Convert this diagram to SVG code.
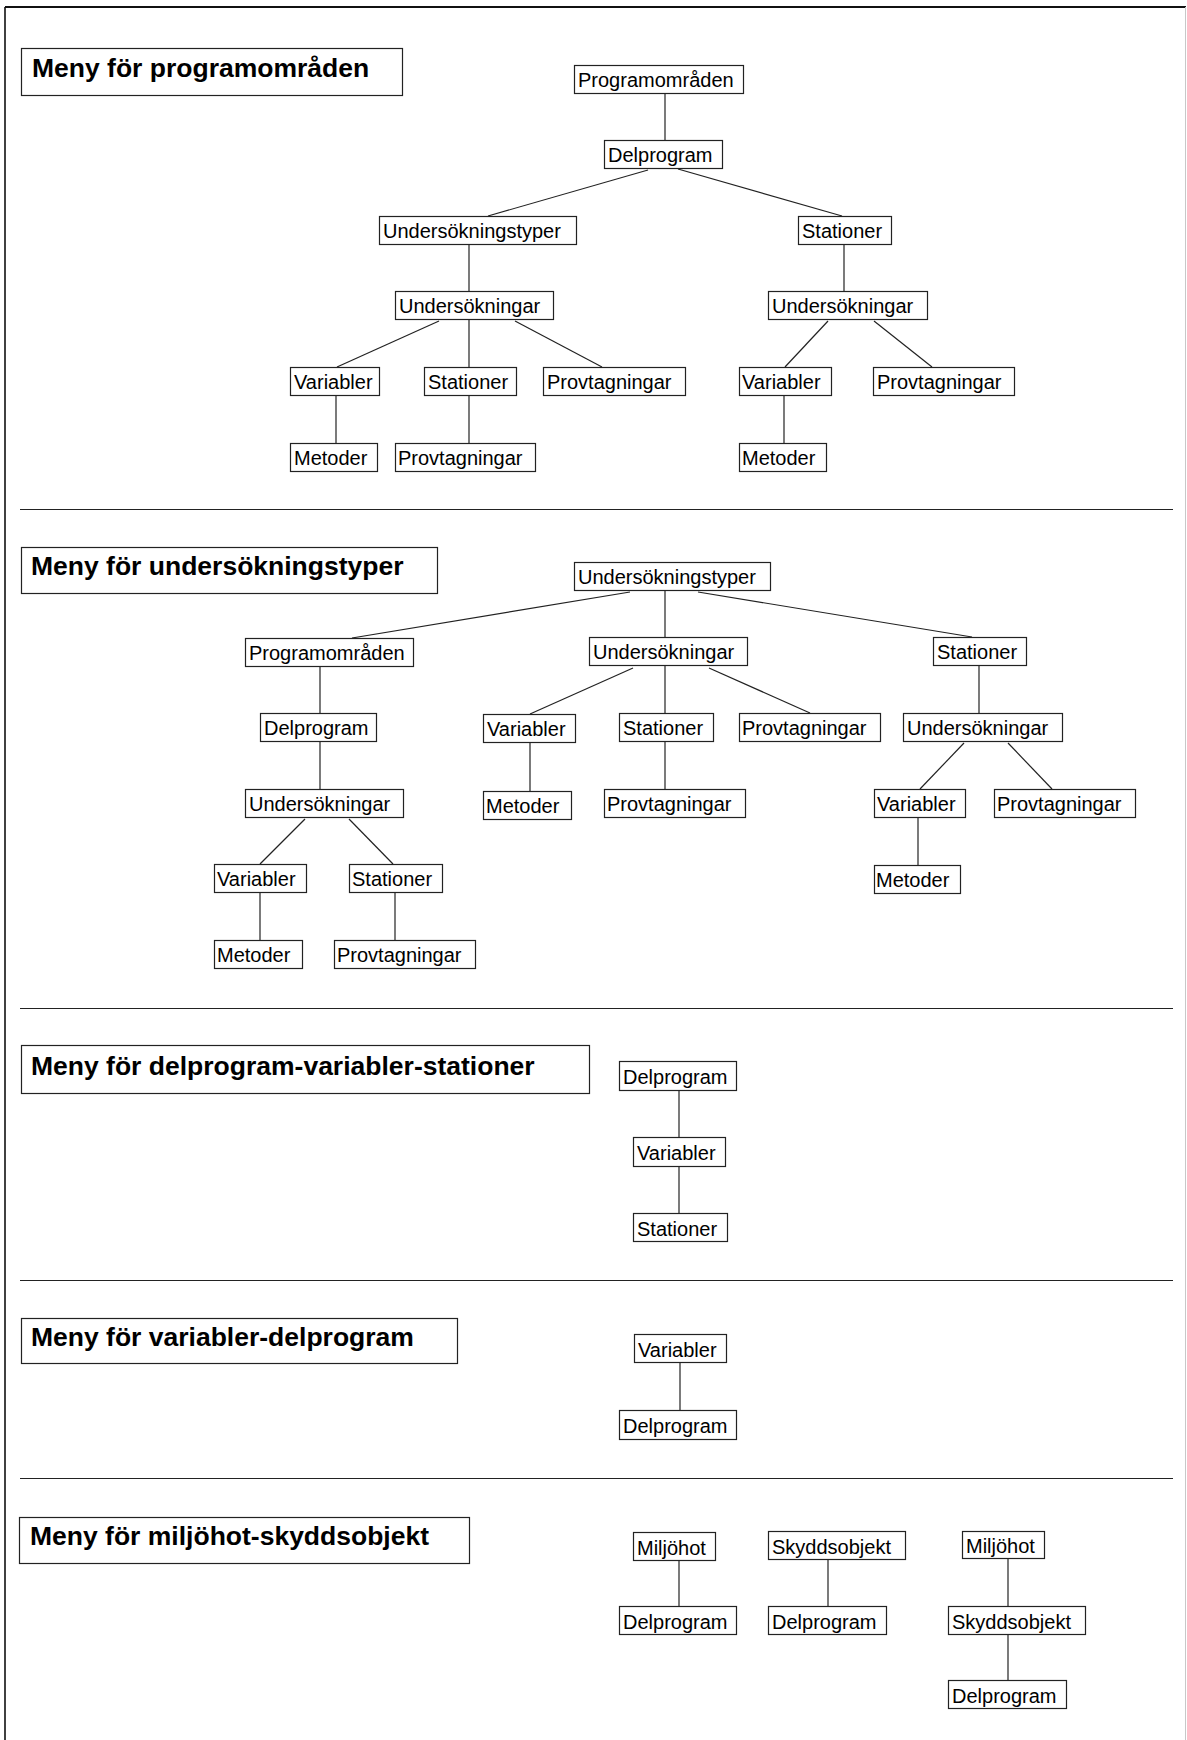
<svg xmlns="http://www.w3.org/2000/svg" width="1187" height="1740" viewBox="0 0 1187 1740">
<style>
  .bg{fill:#fff}
  .frame{fill:none}
  .sep{stroke:#222;stroke-width:1.2}
  .title rect{fill:#fff;stroke:#222;stroke-width:1.2}
  .title text{font-family:"Liberation Sans",Arial,sans-serif;font-weight:bold;font-size:26.5px;fill:#000}
  .node rect{fill:#fff;stroke:#222;stroke-width:1.2}
  .node text{font-family:"Liberation Sans",Arial,sans-serif;font-size:20px;fill:#000}
  .conn line{stroke:#222;stroke-width:1.2}
</style>
<rect class="bg" x="0" y="0" width="1187" height="1740"/>
<g id="frame">
  <line class="frame" x1="5" y1="7" x2="1186" y2="7" stroke="#111" stroke-width="2"/>
  <line class="frame" x1="5" y1="7" x2="5" y2="1740" stroke="#111" stroke-width="1.6"/>
  <line class="frame" x1="1185.5" y1="7" x2="1185.5" y2="1740" stroke="#c8c8c8" stroke-width="1"/>
  <line class="sep" x1="20" y1="509.5" x2="1173" y2="509.5"/>
  <line class="sep" x1="20" y1="1008.5" x2="1173" y2="1008.5"/>
  <line class="sep" x1="20" y1="1280.5" x2="1173" y2="1280.5"/>
  <line class="sep" x1="20" y1="1478.5" x2="1173" y2="1478.5"/>
</g>
<g id="titles">
  <g class="title" id="t1"><rect x="21.5" y="48.5" width="381" height="47"/><text x="32" y="77">Meny för programområden</text></g>
  <g class="title" id="t2"><rect x="21.5" y="547.5" width="416" height="46"/><text x="31" y="575">Meny för undersökningstyper</text></g>
  <g class="title" id="t3"><rect x="21.5" y="1045.5" width="568" height="48"/><text x="31" y="1075">Meny för delprogram-variabler-stationer</text></g>
  <g class="title" id="t4"><rect x="21.5" y="1318.5" width="436" height="45"/><text x="31" y="1346">Meny för variabler-delprogram</text></g>
  <g class="title" id="t5"><rect x="19.5" y="1517.5" width="450" height="46"/><text x="30" y="1545">Meny för miljöhot-skyddsobjekt</text></g>
</g>
<g id="connectors" class="conn">
  <!-- section 1 -->
  <line x1="665" y1="93" x2="665" y2="140"/>
  <line x1="648" y1="170" x2="488" y2="216"/>
  <line x1="678" y1="169" x2="842" y2="216"/>
  <line x1="469" y1="244" x2="469" y2="291"/>
  <line x1="844" y1="244" x2="844" y2="291"/>
  <line x1="439" y1="321" x2="337" y2="367"/>
  <line x1="469" y1="319" x2="469" y2="367"/>
  <line x1="515" y1="321" x2="602" y2="367"/>
  <line x1="828" y1="321" x2="785" y2="367"/>
  <line x1="874" y1="321" x2="932" y2="367"/>
  <line x1="336" y1="395" x2="336" y2="443"/>
  <line x1="469" y1="395" x2="469" y2="443"/>
  <line x1="784" y1="395" x2="784" y2="443"/>
  <!-- section 2 -->
  <line x1="630" y1="592" x2="352" y2="638"/>
  <line x1="665" y1="590" x2="665" y2="637"/>
  <line x1="698" y1="592" x2="972" y2="637"/>
  <line x1="320" y1="666" x2="320" y2="713"/>
  <line x1="320" y1="741" x2="320" y2="789"/>
  <line x1="305" y1="819" x2="260" y2="864"/>
  <line x1="349" y1="819" x2="393" y2="864"/>
  <line x1="260" y1="892" x2="260" y2="940"/>
  <line x1="395" y1="892" x2="395" y2="940"/>
  <line x1="633" y1="668" x2="530" y2="714"/>
  <line x1="665" y1="665" x2="665" y2="713"/>
  <line x1="709" y1="668" x2="810" y2="713"/>
  <line x1="530" y1="742" x2="530" y2="791"/>
  <line x1="665" y1="741" x2="665" y2="789"/>
  <line x1="979" y1="665" x2="979" y2="713"/>
  <line x1="964" y1="743" x2="920" y2="789"/>
  <line x1="1008" y1="743" x2="1052" y2="789"/>
  <line x1="918" y1="817" x2="918" y2="865"/>
  <!-- section 3 -->
  <line x1="679" y1="1090" x2="679" y2="1137"/>
  <line x1="679" y1="1166" x2="679" y2="1213"/>
  <!-- section 4 -->
  <line x1="680" y1="1362" x2="680" y2="1410"/>
  <!-- section 5 -->
  <line x1="679" y1="1560" x2="679" y2="1606"/>
  <line x1="828" y1="1559" x2="828" y2="1606"/>
  <line x1="1008" y1="1558" x2="1008" y2="1606"/>
  <line x1="1008" y1="1634" x2="1008" y2="1680"/>
</g>
<g id="nodes">
  <!-- section 1 -->
  <g class="node" id="n1_prog"><rect x="574.5" y="65.5" width="169" height="28"/><text x="578" y="87">Programområden</text></g>
  <g class="node" id="n1_del"><rect x="604.5" y="140.5" width="118" height="28"/><text x="608" y="162">Delprogram</text></g>
  <g class="node" id="n1_ut"><rect x="379.5" y="216.5" width="197" height="28"/><text x="383" y="238">Undersökningstyper</text></g>
  <g class="node" id="n1_stat"><rect x="798.5" y="216.5" width="93" height="28"/><text x="802" y="238">Stationer</text></g>
  <g class="node" id="n1_uL"><rect x="395.5" y="291.5" width="158" height="28"/><text x="399" y="313">Undersökningar</text></g>
  <g class="node" id="n1_uR"><rect x="768.5" y="291.5" width="159" height="28"/><text x="772" y="313">Undersökningar</text></g>
  <g class="node" id="n1_varL"><rect x="290.5" y="367.5" width="89" height="28"/><text x="294" y="389">Variabler</text></g>
  <g class="node" id="n1_statM"><rect x="424.5" y="367.5" width="92" height="28"/><text x="428" y="389">Stationer</text></g>
  <g class="node" id="n1_provM"><rect x="543.5" y="367.5" width="142" height="28"/><text x="547" y="389">Provtagningar</text></g>
  <g class="node" id="n1_varR"><rect x="739.5" y="367.5" width="92" height="28"/><text x="742" y="389">Variabler</text></g>
  <g class="node" id="n1_provR"><rect x="873.5" y="367.5" width="141" height="28"/><text x="877" y="389">Provtagningar</text></g>
  <g class="node" id="n1_metL"><rect x="290.5" y="443.5" width="87" height="28"/><text x="294" y="465">Metoder</text></g>
  <g class="node" id="n1_provL"><rect x="395.5" y="443.5" width="140" height="28"/><text x="398" y="465">Provtagningar</text></g>
  <g class="node" id="n1_metR"><rect x="739.5" y="443.5" width="87" height="28"/><text x="742" y="465">Metoder</text></g>
  <!-- section 2 -->
  <g class="node" id="n2_ut"><rect x="574.5" y="562.5" width="196" height="28"/><text x="578" y="584">Undersökningstyper</text></g>
  <g class="node" id="n2_prog"><rect x="245.5" y="638.5" width="168" height="28"/><text x="249" y="660">Programområden</text></g>
  <g class="node" id="n2_uM"><rect x="589.5" y="637.5" width="158" height="28"/><text x="593" y="659">Undersökningar</text></g>
  <g class="node" id="n2_statR"><rect x="933.5" y="637.5" width="93" height="28"/><text x="937" y="659">Stationer</text></g>
  <g class="node" id="n2_del"><rect x="260.5" y="713.5" width="116" height="28"/><text x="264" y="735">Delprogram</text></g>
  <g class="node" id="n2_varM"><rect x="483.5" y="714.5" width="92" height="28"/><text x="487" y="736">Variabler</text></g>
  <g class="node" id="n2_statM"><rect x="619.5" y="713.5" width="94" height="28"/><text x="623" y="735">Stationer</text></g>
  <g class="node" id="n2_provM"><rect x="739.5" y="713.5" width="141" height="28"/><text x="742" y="735">Provtagningar</text></g>
  <g class="node" id="n2_uR"><rect x="903.5" y="713.5" width="159" height="28"/><text x="907" y="735">Undersökningar</text></g>
  <g class="node" id="n2_uL"><rect x="245.5" y="789.5" width="158" height="28"/><text x="249" y="811">Undersökningar</text></g>
  <g class="node" id="n2_metM"><rect x="483.5" y="791.5" width="88" height="28"/><text x="486" y="813">Metoder</text></g>
  <g class="node" id="n2_provM2"><rect x="604.5" y="789.5" width="141" height="28"/><text x="607" y="811">Provtagningar</text></g>
  <g class="node" id="n2_varR"><rect x="874.5" y="789.5" width="91" height="28"/><text x="877" y="811">Variabler</text></g>
  <g class="node" id="n2_provR"><rect x="994.5" y="789.5" width="141" height="28"/><text x="997" y="811">Provtagningar</text></g>
  <g class="node" id="n2_varL"><rect x="214.5" y="864.5" width="92" height="28"/><text x="217" y="886">Variabler</text></g>
  <g class="node" id="n2_statL"><rect x="349.5" y="864.5" width="93" height="28"/><text x="352" y="886">Stationer</text></g>
  <g class="node" id="n2_metR"><rect x="874.5" y="865.5" width="86" height="28"/><text x="876" y="887">Metoder</text></g>
  <g class="node" id="n2_metL"><rect x="214.5" y="940.5" width="88" height="28"/><text x="217" y="962">Metoder</text></g>
  <g class="node" id="n2_provL"><rect x="334.5" y="940.5" width="141" height="28"/><text x="337" y="962">Provtagningar</text></g>
  <!-- section 3 -->
  <g class="node" id="n3_del"><rect x="619.5" y="1061.5" width="117" height="29"/><text x="623" y="1084">Delprogram</text></g>
  <g class="node" id="n3_var"><rect x="633.5" y="1137.5" width="92" height="29"/><text x="637" y="1160">Variabler</text></g>
  <g class="node" id="n3_stat"><rect x="633.5" y="1213.5" width="94" height="28"/><text x="637" y="1236">Stationer</text></g>
  <!-- section 4 -->
  <g class="node" id="n4_var"><rect x="634.5" y="1334.5" width="92" height="28"/><text x="638" y="1357">Variabler</text></g>
  <g class="node" id="n4_del"><rect x="619.5" y="1410.5" width="117" height="29"/><text x="623" y="1433">Delprogram</text></g>
  <!-- section 5 -->
  <g class="node" id="n5_mil1"><rect x="633.5" y="1532.5" width="82" height="28"/><text x="637" y="1555">Miljöhot</text></g>
  <g class="node" id="n5_del1"><rect x="619.5" y="1606.5" width="117" height="28"/><text x="623" y="1629">Delprogram</text></g>
  <g class="node" id="n5_sky1"><rect x="768.5" y="1531.5" width="137" height="28"/><text x="772" y="1554">Skyddsobjekt</text></g>
  <g class="node" id="n5_del2"><rect x="768.5" y="1606.5" width="118" height="28"/><text x="772" y="1629">Delprogram</text></g>
  <g class="node" id="n5_mil2"><rect x="962.5" y="1531.5" width="82" height="27"/><text x="966" y="1553">Miljöhot</text></g>
  <g class="node" id="n5_sky2"><rect x="948.5" y="1606.5" width="137" height="28"/><text x="952" y="1629">Skyddsobjekt</text></g>
  <g class="node" id="n5_del3"><rect x="948.5" y="1680.5" width="118" height="28"/><text x="952" y="1703">Delprogram</text></g>
</g>
</svg>
